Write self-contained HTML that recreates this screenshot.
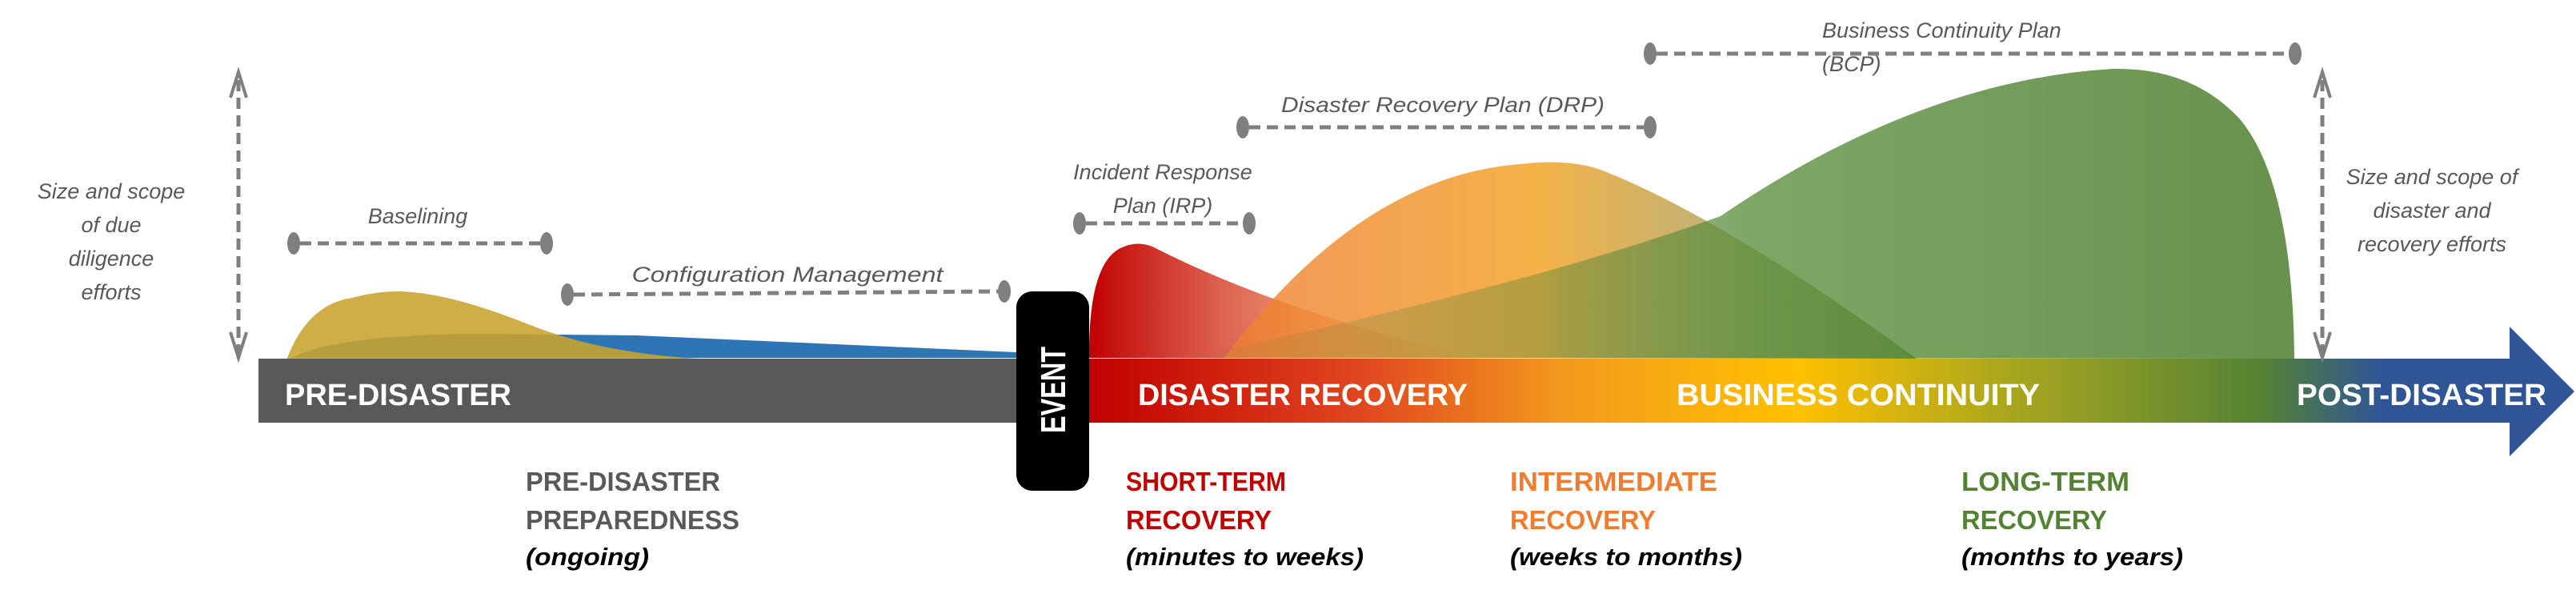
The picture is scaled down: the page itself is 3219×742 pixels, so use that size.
<!DOCTYPE html>
<html><head><meta charset="utf-8"><style>
html,body{margin:0;padding:0;background:#fff;}
svg{display:block}
.c{font-family:"Liberation Sans Narrow","Liberation Sans",sans-serif;font-weight:bold;}
.i{font-family:"Liberation Sans Narrow","Liberation Sans",sans-serif;font-style:italic;fill:#595959;font-size:27px;}
</style></head><body>
<svg width="3219" height="742" viewBox="0 0 3219 742" xmlns="http://www.w3.org/2000/svg">
<defs>
<linearGradient id="bar" gradientUnits="userSpaceOnUse" x1="1361" y1="0" x2="3219" y2="0">
<stop offset="0" stop-color="#c00000"/>
<stop offset="0.18" stop-color="#e0451f"/>
<stop offset="0.32" stop-color="#f39a1e"/>
<stop offset="0.475" stop-color="#ffc000"/>
<stop offset="0.62" stop-color="#a8a61e"/>
<stop offset="0.79" stop-color="#548235"/>
<stop offset="0.87" stop-color="#2f5597"/>
<stop offset="1" stop-color="#2f5597"/>
</linearGradient>
<linearGradient id="red" gradientUnits="userSpaceOnUse" x1="1361" y1="0" x2="1850" y2="0">
<stop offset="0" stop-color="#c00000"/>
<stop offset="0.5" stop-color="#e06040" stop-opacity="0.75"/>
<stop offset="1" stop-color="#f0a080" stop-opacity="0.2"/>
</linearGradient>
<linearGradient id="org" gradientUnits="userSpaceOnUse" x1="1530" y1="0" x2="2400" y2="0">
<stop offset="0" stop-color="#ed7d31" stop-opacity="0.8"/>
<stop offset="0.45" stop-color="#f4a934" stop-opacity="0.9"/>
<stop offset="0.7" stop-color="#b3a050" stop-opacity="0.8"/>
<stop offset="1" stop-color="#548235" stop-opacity="0.9"/>
</linearGradient>
<linearGradient id="grn" gradientUnits="userSpaceOnUse" x1="1500" y1="0" x2="2870" y2="0">
<stop offset="0" stop-color="#548235" stop-opacity="0.05"/>
<stop offset="0.3" stop-color="#548235" stop-opacity="0.4"/>
<stop offset="0.5" stop-color="#5e9040" stop-opacity="0.8"/>
<stop offset="1" stop-color="#548235" stop-opacity="0.88"/>
</linearGradient>
</defs>

<!-- pre-disaster shapes -->
<path d="M365,447 Q420,418 600,417 L796,419 Q1000,428 1270,440 L1270,447 Z" fill="#2e75b6"/>
<path d="M359,447 Q385,380 440,372 Q470,364 498,364 Q560,365 660,405 Q760,445 899,449 L359,449 Z" fill="#c9a32d" fill-opacity="0.88"/>

<!-- recovery shapes -->
<path d="M1361,447 Q1360,330 1400,310 Q1420,300 1440,308 Q1600,390 1850,448 Z" fill="url(#red)"/>
<path d="M1530,447 Q1700,220 1900,205 Q1960,198 2000,212 Q2150,270 2395,448 Z" fill="url(#org)"/>
<path d="M1480,447 Q1900,360 2150,270 Q2400,100 2640,86 Q2740,84 2800,150 Q2865,230 2867,448 Z" fill="url(#grn)"/>

<!-- bar -->
<rect x="323" y="448" width="950" height="80" fill="#595959"/>
<path d="M1361,448 L3136,448 L3136,408 L3217,489 L3136,570 L3136,528 L1361,528 Z" fill="url(#bar)"/>
<rect x="1270" y="364" width="91" height="249" rx="20" fill="#000"/>
<text class="c" font-size="44" fill="#fff" textLength="108" lengthAdjust="spacingAndGlyphs" transform="translate(1331,541) rotate(-90)" x="0" y="0">EVENT</text>

<text class="c" x="356" y="506" font-size="38" fill="#fff" textLength="283" lengthAdjust="spacingAndGlyphs">PRE-DISASTER</text>
<text class="c" x="1422" y="506" font-size="38" fill="#fff" textLength="412" lengthAdjust="spacingAndGlyphs">DISASTER RECOVERY</text>
<text class="c" x="2095" y="506" font-size="38" fill="#fff" textLength="454" lengthAdjust="spacingAndGlyphs">BUSINESS CONTINUITY</text>
<text class="c" x="2870" y="506" font-size="38" fill="#fff" textLength="312" lengthAdjust="spacingAndGlyphs">POST-DISASTER</text>

<!-- lower labels -->
<text class="c" x="657" y="613" font-size="33" fill="#595959" textLength="243" lengthAdjust="spacingAndGlyphs">PRE-DISASTER</text>
<text class="c" x="657" y="661" font-size="33" fill="#595959" textLength="267" lengthAdjust="spacingAndGlyphs">PREPAREDNESS</text>
<text class="c" x="657" y="706" font-size="31" fill="#000" font-style="italic" textLength="154" lengthAdjust="spacingAndGlyphs">(ongoing)</text>

<text class="c" x="1407" y="613" font-size="33" fill="#c00000" textLength="200" lengthAdjust="spacingAndGlyphs">SHORT-TERM</text>
<text class="c" x="1407" y="661" font-size="33" fill="#c00000" textLength="182" lengthAdjust="spacingAndGlyphs">RECOVERY</text>
<text class="c" x="1407" y="706" font-size="31" fill="#000" font-style="italic" textLength="297" lengthAdjust="spacingAndGlyphs">(minutes to weeks)</text>

<text class="c" x="1887" y="613" font-size="33" fill="#ed7d31" textLength="259" lengthAdjust="spacingAndGlyphs">INTERMEDIATE</text>
<text class="c" x="1887" y="661" font-size="33" fill="#ed7d31" textLength="182" lengthAdjust="spacingAndGlyphs">RECOVERY</text>
<text class="c" x="1887" y="706" font-size="31" fill="#000" font-style="italic" textLength="290" lengthAdjust="spacingAndGlyphs">(weeks to months)</text>

<text class="c" x="2451" y="613" font-size="33" fill="#548235" textLength="210" lengthAdjust="spacingAndGlyphs">LONG-TERM</text>
<text class="c" x="2451" y="661" font-size="33" fill="#548235" textLength="182" lengthAdjust="spacingAndGlyphs">RECOVERY</text>
<text class="c" x="2451" y="706" font-size="31" fill="#000" font-style="italic" textLength="277" lengthAdjust="spacingAndGlyphs">(months to years)</text>

<!-- dashed range lines -->
<g stroke="#7f7f7f" stroke-width="5" stroke-dasharray="14,8" fill="none">
<line x1="375" y1="304" x2="675" y2="304"/>
<line x1="717" y1="368" x2="1247" y2="364"/>
<line x1="1357" y1="279" x2="1553" y2="279"/>
<line x1="1561" y1="159" x2="2054" y2="159"/>
<line x1="2070" y1="67" x2="2860" y2="67"/>
<line x1="298" y1="100" x2="298" y2="440"/>
<line x1="2902" y1="100" x2="2902" y2="440"/>
</g>
<g fill="#7f7f7f">
<ellipse cx="367" cy="304" rx="8" ry="14"/><ellipse cx="683" cy="304" rx="8" ry="14"/>
<ellipse cx="709" cy="368" rx="8" ry="14"/><ellipse cx="1255" cy="364" rx="8" ry="14"/>
<ellipse cx="1349" cy="279" rx="8" ry="14"/><ellipse cx="1561" cy="279" rx="8" ry="14"/>
<ellipse cx="1553" cy="159" rx="8" ry="14"/><ellipse cx="2062" cy="159" rx="8" ry="14"/>
<ellipse cx="2062" cy="67" rx="8" ry="14"/><ellipse cx="2868" cy="67" rx="8" ry="14"/>
</g>
<g stroke="#7f7f7f" stroke-width="4" fill="none">
<polyline points="288,122 298,90 308,122"/>
<polyline points="288,415 298,447 308,415"/>
<polyline points="2892,122 2902,90 2912,122"/>
<polyline points="2892,415 2902,447 2912,415"/>
</g>

<!-- italic labels -->
<text class="i" x="522" y="279" text-anchor="middle">Baselining</text>
<text class="i" x="984" y="352" text-anchor="middle" textLength="389" lengthAdjust="spacingAndGlyphs">Configuration Management</text>
<text class="i" x="1453" y="224" text-anchor="middle">Incident Response</text>
<text class="i" x="1453" y="266" text-anchor="middle">Plan (IRP)</text>
<text class="i" x="1803" y="140" text-anchor="middle" textLength="404" lengthAdjust="spacingAndGlyphs">Disaster Recovery Plan (DRP)</text>
<text class="i" x="2277" y="47">Business Continuity Plan</text>
<text class="i" x="2277" y="89">(BCP)</text>
<g class="i" text-anchor="middle">
<text class="i" x="139" y="248" text-anchor="middle">Size and scope</text>
<text class="i" x="139" y="290" text-anchor="middle">of due</text>
<text class="i" x="139" y="332" text-anchor="middle">diligence</text>
<text class="i" x="139" y="374" text-anchor="middle">efforts</text>
<text class="i" x="3039" y="230" text-anchor="middle">Size and scope of</text>
<text class="i" x="3039" y="272" text-anchor="middle">disaster and</text>
<text class="i" x="3039" y="314" text-anchor="middle">recovery efforts</text>
</g>
</svg>
</body></html>
